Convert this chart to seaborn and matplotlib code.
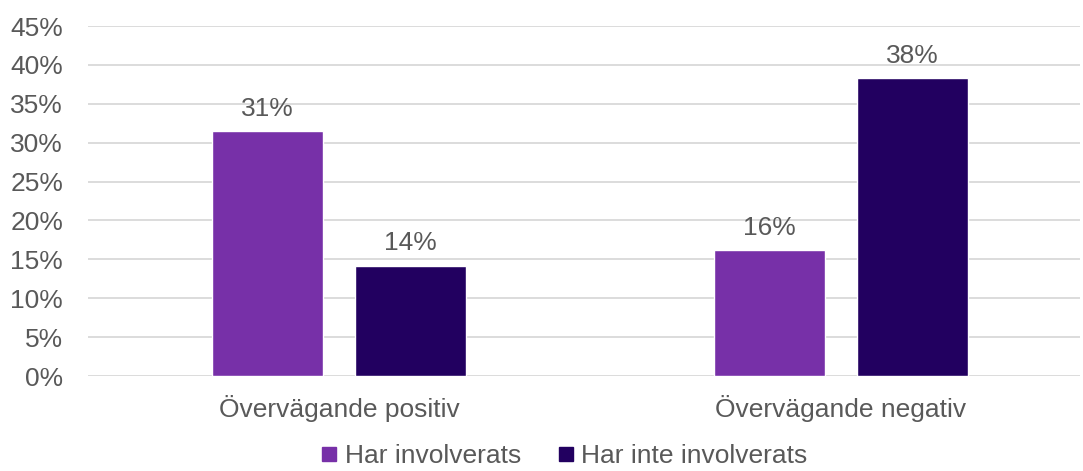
import pandas as pd
import seaborn as sns
import matplotlib.pyplot as plt
from matplotlib.lines import Line2D

# =========================
#          DATA
# =========================
categories = ["Övervägande positiv", "Övervägande negativ"]
series = ["Har involverats", "Har inte involverats"]
involved = [31.45, 16.2]
not_involved = [14.2, 38.3]
colors = ["#7730A8", "#220060"]
y_ticks = [0, 5, 10, 15, 20, 25, 30, 35, 40, 45]

df = pd.DataFrame({
    "kategori": categories * 2,
    "grupp": [series[0]] * 2 + [series[1]] * 2,
    "andel": involved + not_involved,
})

# =========================
#          PLOT
# =========================
sns.set_style("white")
plt.rcParams["font.family"] = ["Liberation Sans", "DejaVu Sans"]
text_color = "#595959"
fs = 19

fig = plt.figure(figsize=(10.83, 4.71), dpi=100)
ax = fig.add_axes([88 / 1083, 1 - 376 / 471, (1080 - 88) / 1083, 350 / 471])

sns.barplot(
    data=df, x="kategori", y="andel", hue="grupp",
    order=categories, hue_order=series, palette=colors,
    width=0.57, gap=0.225, saturation=1, legend=False, ax=ax,
)

for container in ax.containers:
    ax.bar_label(container, labels=[f"{round(v)}%" for v in container.datavalues],
                 padding=7.5, fontsize=fs, color=text_color)

ax.set_ylim(0, 45)
ax.set_xlim(-0.5, -0.5 + 992 / 502)
ax.set_yticks(y_ticks)
ax.set_yticklabels([f"{t}%" for t in y_ticks])
ax.yaxis.grid(True, color="#D9D9D9", linewidth=1.3)
ax.set_axisbelow(True)
for s in ax.spines.values():
    s.set_visible(False)
ax.set_xlabel("")
ax.set_ylabel("")
ax.tick_params(axis="both", length=0, labelsize=fs, labelcolor=text_color)
ax.tick_params(axis="x", pad=14)
ax.tick_params(axis="y", pad=18)

handles = [Line2D([0], [0], marker="s", color="none", markerfacecolor=c,
                  markeredgecolor=c, markersize=10) for c in colors]
fig.legend(handles, series, loc="lower center", bbox_to_anchor=(0.521, -0.045),
           ncol=2, frameon=False, fontsize=fs, labelcolor=text_color,
           handlelength=0.6, handletextpad=0.3, columnspacing=1.4)

fig.savefig("out.png", dpi=100)
